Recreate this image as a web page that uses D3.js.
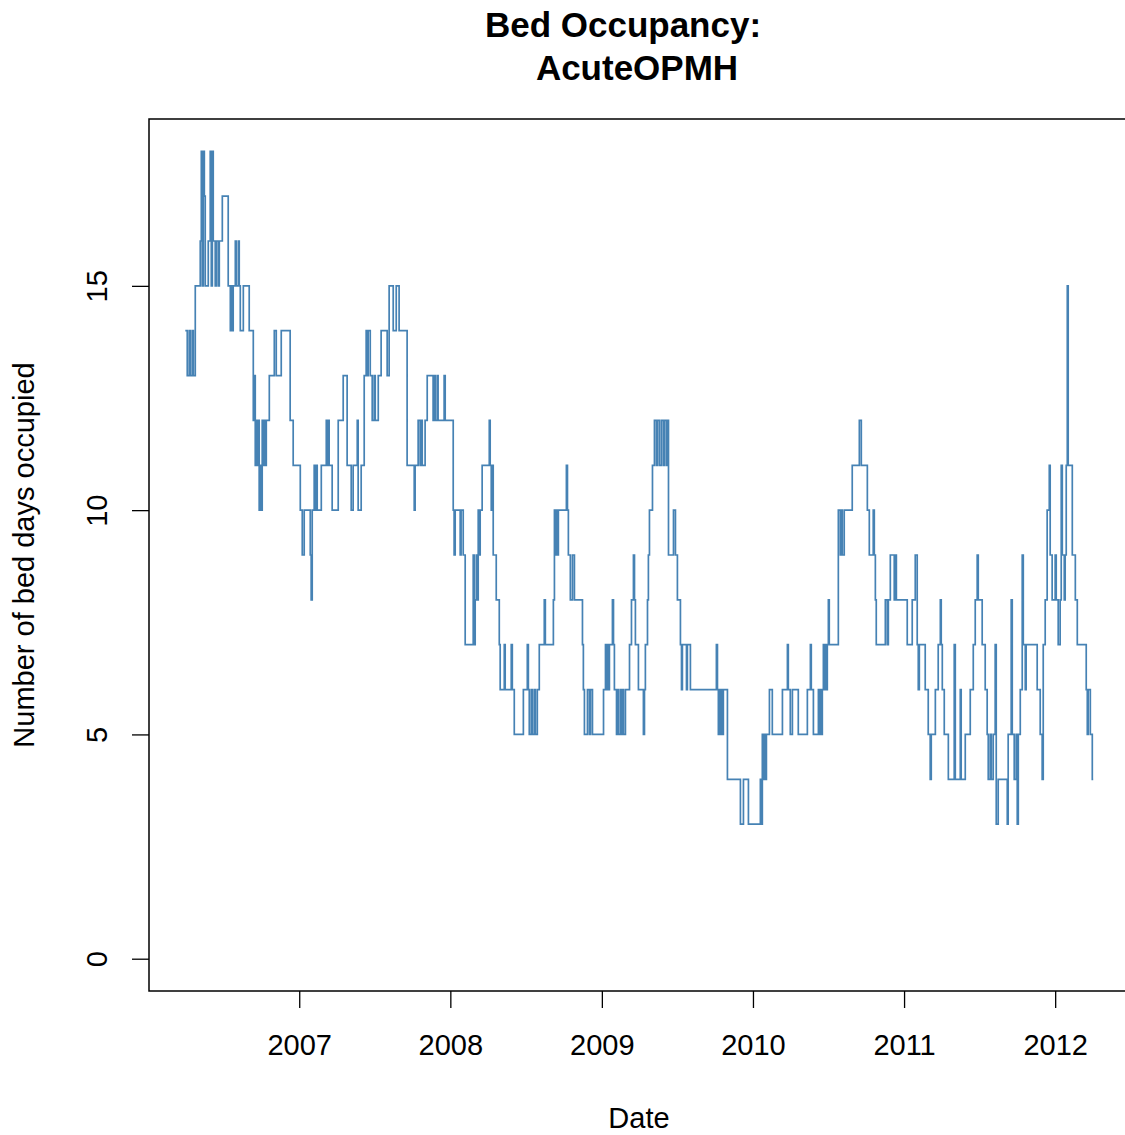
<!doctype html>
<html lang="en">
<head>
<meta charset="utf-8">
<title>Bed Occupancy: AcuteOPMH</title>
<script src="https://cdn.jsdelivr.net/npm/d3@7/dist/d3.min.js"></script>
<style>
  body { margin: 0; background: #fff; }
  svg { display: block; font-family: "Liberation Sans", Arial, sans-serif; }
  .axis text { font-size: 29px; fill: #000; }
  .axis line { stroke: #000; stroke-width: 1.3px; }
</style>
</head>
<body>
<div id="chart"></div>
<script>
// change points of the daily series (decimal year when the count changed)
var obsYear = [
  2006.246, 2006.259, 2006.272, 2006.279, 2006.292, 2006.299, 2006.312, 2006.345, 2006.352, 2006.358,
  2006.365, 2006.372, 2006.378, 2006.398, 2006.411, 2006.418, 2006.425, 2006.431, 2006.444, 2006.451,
  2006.464, 2006.471, 2006.491, 2006.530, 2006.544, 2006.550, 2006.557, 2006.563, 2006.577, 2006.583,
  2006.597, 2006.603, 2006.610, 2006.630, 2006.669, 2006.696, 2006.702, 2006.709, 2006.716, 2006.722,
  2006.729, 2006.735, 2006.742, 2006.749, 2006.755, 2006.762, 2006.769, 2006.775, 2006.782, 2006.802,
  2006.835, 2006.848, 2006.881, 2006.940, 2006.960, 2007.007, 2007.020, 2007.033, 2007.073, 2007.079,
  2007.086, 2007.099, 2007.106, 2007.112, 2007.119, 2007.146, 2007.179, 2007.185, 2007.192, 2007.198,
  2007.218, 2007.258, 2007.291, 2007.317, 2007.344, 2007.357, 2007.384, 2007.390, 2007.410, 2007.430,
  2007.443, 2007.450, 2007.456, 2007.470, 2007.483, 2007.496, 2007.503, 2007.523, 2007.542, 2007.582,
  2007.595, 2007.622, 2007.642, 2007.661, 2007.714, 2007.761, 2007.767, 2007.787, 2007.800, 2007.807,
  2007.814, 2007.833, 2007.847, 2007.886, 2007.893, 2007.900, 2007.913, 2007.919, 2007.959, 2007.966,
  2008.019, 2008.025, 2008.032, 2008.065, 2008.071, 2008.085, 2008.098, 2008.151, 2008.157, 2008.164,
  2008.171, 2008.177, 2008.184, 2008.191, 2008.197, 2008.210, 2008.257, 2008.263, 2008.270, 2008.277,
  2008.283, 2008.303, 2008.323, 2008.329, 2008.356, 2008.362, 2008.402, 2008.409, 2008.422, 2008.482,
  2008.508, 2008.515, 2008.521, 2008.534, 2008.541, 2008.554, 2008.561, 2008.574, 2008.587, 2008.620,
  2008.627, 2008.680, 2008.687, 2008.693, 2008.700, 2008.706, 2008.713, 2008.766, 2008.773, 2008.779,
  2008.792, 2008.806, 2008.819, 2008.872, 2008.878, 2008.885, 2008.905, 2008.918, 2008.925, 2008.938,
  2009.011, 2009.024, 2009.031, 2009.037, 2009.044, 2009.050, 2009.070, 2009.077, 2009.083, 2009.097,
  2009.103, 2009.110, 2009.123, 2009.130, 2009.136, 2009.143, 2009.156, 2009.183, 2009.196, 2009.209,
  2009.216, 2009.222, 2009.242, 2009.275, 2009.282, 2009.288, 2009.302, 2009.308, 2009.315, 2009.335,
  2009.348, 2009.361, 2009.368, 2009.381, 2009.394, 2009.407, 2009.414, 2009.427, 2009.434, 2009.441,
  2009.474, 2009.487, 2009.500, 2009.520, 2009.527, 2009.533, 2009.560, 2009.566, 2009.586, 2009.758,
  2009.765, 2009.771, 2009.778, 2009.785, 2009.791, 2009.798, 2009.804, 2009.831, 2009.917, 2009.937,
  2009.970, 2010.049, 2010.056, 2010.062, 2010.069, 2010.076, 2010.082, 2010.089, 2010.109, 2010.128,
  2010.195, 2010.228, 2010.234, 2010.247, 2010.261, 2010.300, 2010.360, 2010.380, 2010.386, 2010.400,
  2010.433, 2010.439, 2010.446, 2010.453, 2010.459, 2010.466, 2010.472, 2010.479, 2010.486, 2010.492,
  2010.499, 2010.505, 2010.565, 2010.578, 2010.585, 2010.591, 2010.604, 2010.657, 2010.704, 2010.717,
  2010.757, 2010.770, 2010.796, 2010.803, 2010.810, 2010.816, 2010.876, 2010.889, 2010.896, 2010.909,
  2010.935, 2010.942, 2010.949, 2011.021, 2011.054, 2011.074, 2011.087, 2011.094, 2011.101, 2011.140,
  2011.160, 2011.173, 2011.180, 2011.207, 2011.226, 2011.240, 2011.246, 2011.253, 2011.266, 2011.293,
  2011.332, 2011.339, 2011.372, 2011.378, 2011.405, 2011.438, 2011.458, 2011.471, 2011.484, 2011.491,
  2011.517, 2011.537, 2011.550, 2011.557, 2011.570, 2011.577, 2011.590, 2011.603, 2011.610, 2011.623,
  2011.683, 2011.689, 2011.709, 2011.716, 2011.729, 2011.742, 2011.749, 2011.756, 2011.769, 2011.782,
  2011.789, 2011.802, 2011.808, 2011.881, 2011.901, 2011.914, 2011.921, 2011.934, 2011.947, 2011.961,
  2011.967, 2011.980, 2012.000, 2012.007, 2012.020, 2012.033, 2012.040, 2012.047, 2012.060, 2012.066,
  2012.073, 2012.080, 2012.086, 2012.113, 2012.133, 2012.146, 2012.205, 2012.212, 2012.218, 2012.232,
  2012.245, 2012.251
];

var bedsOccupied = [
  14, 13, 14, 13, 14, 13, 15, 16, 18, 15,
  18, 17, 15, 16, 18, 15, 18, 16, 15, 16,
  15, 16, 17, 15, 14, 15, 14, 15, 16, 15,
  16, 15, 14, 15, 14, 12, 13, 11, 12, 11,
  12, 10, 11, 10, 12, 11, 12, 11, 12, 13,
  14, 13, 14, 12, 11, 10, 9, 10, 9, 8,
  10, 11, 10, 11, 10, 11, 12, 11, 12, 11,
  10, 12, 13, 11, 10, 11, 12, 10, 11, 13,
  14, 13, 14, 13, 12, 13, 12, 13, 14, 13,
  15, 14, 15, 14, 11, 10, 11, 12, 11, 12,
  11, 12, 13, 12, 13, 12, 13, 12, 13, 12,
  10, 9, 10, 9, 10, 9, 7, 9, 7, 8,
  9, 8, 10, 9, 10, 11, 12, 11, 10, 11,
  9, 8, 7, 6, 7, 6, 7, 6, 5, 6,
  7, 6, 5, 6, 5, 6, 5, 6, 7, 8,
  7, 8, 10, 9, 10, 9, 10, 11, 10, 9,
  8, 9, 8, 7, 6, 5, 6, 5, 6, 5,
  6, 7, 6, 7, 6, 7, 8, 7, 6, 5,
  6, 5, 6, 5, 6, 5, 6, 7, 8, 9,
  8, 7, 6, 5, 6, 7, 8, 9, 10, 11,
  12, 11, 12, 11, 12, 11, 12, 11, 12, 9,
  10, 9, 8, 7, 6, 7, 6, 7, 6, 7,
  6, 5, 6, 5, 6, 5, 6, 4, 3, 4,
  3, 4, 3, 5, 4, 5, 4, 5, 6, 5,
  6, 7, 6, 5, 6, 5, 6, 7, 6, 5,
  6, 5, 6, 5, 6, 7, 6, 7, 6, 7,
  8, 7, 10, 9, 10, 9, 10, 11, 12, 11,
  10, 9, 10, 9, 8, 7, 8, 7, 8, 9,
  8, 9, 8, 7, 8, 9, 7, 6, 7, 6,
  5, 4, 5, 6, 7, 8, 7, 6, 5, 4,
  7, 4, 6, 4, 5, 6, 7, 8, 9, 8,
  7, 6, 5, 4, 5, 4, 5, 7, 3, 4,
  3, 5, 8, 5, 4, 5, 3, 5, 6, 9,
  7, 6, 7, 6, 5, 4, 7, 8, 10, 11,
  9, 8, 9, 8, 7, 8, 11, 9, 8, 9,
  11, 15, 11, 9, 8, 7, 6, 5, 6, 5,
  4, 4
];

var yearTicks = [2007, 2008, 2009, 2010, 2011, 2012];
var yTicks = [0, 5, 10, 15];
var yLimits = [0, 18];

var width = 1125, height = 1135;
var plotLeft = 149, plotRight = 1129.6, plotTop = 119, plotBottom = 991;

function yearToDate(y) {
  var yr = Math.floor(y);
  var start = new Date(yr, 0, 1), end = new Date(yr + 1, 0, 1);
  return new Date(+start + (y - yr) * (end - start));
}

var series = obsYear.map(function(t, i) {
  return { date: yearToDate(t), value: bedsOccupied[i] };
});

// R style 4% padding on both axes
var ext = d3.extent(obsYear);
var padX = (ext[1] - ext[0]) * 0.04;
var x = d3.scaleTime()
    .domain([yearToDate(ext[0] - padX), yearToDate(ext[1] + padX)])
    .range([plotLeft, plotRight]);

var padY = (yLimits[1] - yLimits[0]) * 0.04;
var y = d3.scaleLinear()
    .domain([yLimits[0] - padY, yLimits[1] + padY])
    .range([plotBottom, plotTop]);

var svg = d3.select("#chart").append("svg")
    .attr("width", width)
    .attr("height", height);

svg.append("rect")
    .attr("width", width).attr("height", height)
    .attr("fill", "#fff");

// series
var line = d3.line()
    .curve(d3.curveStepAfter)
    .x(function(d) { return x(d.date); })
    .y(function(d) { return y(d.value); });

svg.append("path")
    .datum(series)
    .attr("d", line)
    .attr("fill", "none")
    .attr("stroke", "steelblue")
    .attr("stroke-width", 1.7);

// box
svg.append("rect")
    .attr("x", plotLeft).attr("y", plotTop)
    .attr("width", plotRight - plotLeft).attr("height", plotBottom - plotTop)
    .attr("fill", "none")
    .attr("stroke", "#000")
    .attr("stroke-width", 1.5);

// x axis
var xAxis = d3.axisBottom(x)
    .tickValues(yearTicks.map(function(v) { return new Date(v, 0, 1); }))
    .tickFormat(d3.timeFormat("%Y"))
    .tickSize(17);

var gx = svg.append("g")
    .attr("class", "axis")
    .attr("transform", "translate(0," + plotBottom + ")")
    .call(xAxis);
gx.select(".domain").remove();
gx.selectAll("text").attr("y", 64).attr("dy", null)
    .attr("font-family", null).attr("font-size", null);

// y axis
var yAxis = d3.axisLeft(y)
    .tickValues(yTicks)
    .tickSize(17);

var gy = svg.append("g")
    .attr("class", "axis")
    .attr("transform", "translate(" + plotLeft + ",0)")
    .call(yAxis);
gy.select(".domain").remove();
gy.selectAll("text")
    .attr("transform", "rotate(-90)")
    .attr("x", 0).attr("y", -42).attr("dy", null)
    .attr("text-anchor", "middle")
    .attr("font-family", null).attr("font-size", null);

// labels
svg.append("text")
    .attr("x", 639).attr("y", 1128)
    .attr("text-anchor", "middle")
    .attr("font-size", 29)
    .text("Date");

svg.append("text")
    .attr("transform", "translate(34," + ((plotTop + plotBottom) / 2) + ") rotate(-90)")
    .attr("text-anchor", "middle")
    .attr("font-size", 29)
    .text("Number of bed days occupied");

var title = svg.append("g")
    .attr("font-size", 35)
    .attr("font-weight", "bold")
    .attr("text-anchor", "middle");
title.append("text").attr("x", 623).attr("y", 37).text("Bed Occupancy:");
title.append("text").attr("x", 637).attr("y", 80).text("AcuteOPMH");
</script>
</body>
</html>
